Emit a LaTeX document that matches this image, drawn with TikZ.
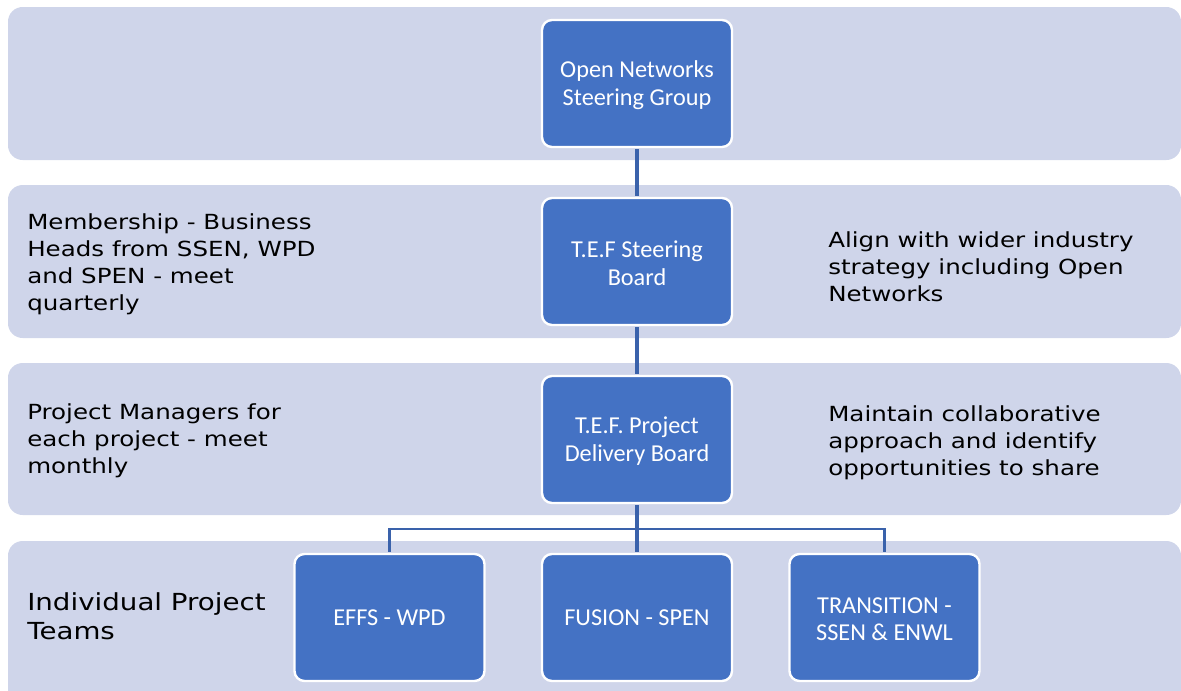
\documentclass[tikz,border=0pt]{standalone}
\usepackage{fontspec}
\setmainfont{DejaVu Sans}
\newfontfamily\sidefont[FakeStretch=1.18]{DejaVu Sans}
\newfontfamily\boxfont{Carlito}
\definecolor{band}{HTML}{CFD5EA}
\definecolor{boxblue}{HTML}{4472C4}
\definecolor{linkblue}{HTML}{3A62AB}
\begin{document}
\begin{tikzpicture}[x=0.75pt,y=-0.75pt,
  bandrect/.style={fill=band,draw=none,rounded corners=11pt},
  unit/.style={draw=white,line width=1.8pt,fill=boxblue,rounded corners=7.5pt,
    minimum width=190*0.75pt,minimum height=127*0.75pt,inner sep=0pt,
    text=white,align=center,font=\boxfont\fontsize{18.2}{20.5}\selectfont},
  unitlabel/.style={inner sep=0pt,text=white,align=center,font=\boxfont\fontsize{18.2}{20.5}\selectfont},
  side/.style={anchor=west,align=left,inner sep=0pt,text=black,
    font=\sidefont\fontsize{15.6}{20.3}\selectfont},
  thick link/.style={draw=linkblue,line width=3pt},
  thin link/.style={draw=linkblue,line width=1.6pt}]
\useasboundingbox (0,0) rectangle (1181,690);
% bands
\fill[bandrect] (8,7) rectangle (1181,160);
\fill[bandrect] (8,185) rectangle (1181,338);
\fill[bandrect] (8,363) rectangle (1181,515);
\fill[bandrect] (8,541) rectangle (1181,705);
% boxes
\node[unit] (osg) at (637,83.5) {};
\node[unit] (tsb) at (637,261.5) {};
\node[unit] (pdb) at (637,439.5) {};
\node[unit] (effs) at (389.5,617.5) {};
\node[unit] (fus) at (637,617.5) {};
\node[unit] (tra) at (884.5,617.5) {};
\node[unitlabel] (osgt) at ([yshift=-1.2pt]osg.center) {Open Networks\\Steering Group};
\node[unitlabel] (tsbt) at ([yshift=-1.2pt]tsb.center) {T.E.F Steering\\Board};
\node[unitlabel] (pdbt) at ([yshift=-1.2pt]pdb.center) {T.E.F. Project\\Delivery Board};
\node[unitlabel] (effst) at ([yshift=-0.5pt]effs.center) {EFFS - WPD};
\node[unitlabel] (fust) at ([yshift=-0.5pt]fus.center) {FUSION - SPEN};
\node[unitlabel] (trat) at ([yshift=-1.2pt]tra.center) {TRANSITION -\\SSEN \& ENWL};
\coordinate (hy) at (637,529);
% connectors
\draw[thick link] ([yshift=-0.9pt]osg.south) -- ([yshift=0.9pt]tsb.north);
\draw[thick link] ([yshift=-0.9pt]tsb.south) -- ([yshift=0.9pt]pdb.north);
\draw[thick link] ([yshift=-0.9pt]pdb.south) -- ([yshift=0.9pt]fus.north);
\draw[thin link] ([yshift=0.9pt]effs.north) |- (hy) -| ([yshift=0.9pt]tra.north);
% side texts
\node[side] (memb) at (27,264) {Membership - Business\\Heads from SSEN, WPD\\and SPEN - meet\\quarterly};
\node[side] (align) at (828,266.5) {Align with wider industry\\strategy including Open\\Networks};
\node[side] (pm) at (27,441) {Project Managers for\\each project - meet\\monthly};
\node[side] (maint) at (828,443) {Maintain collaborative\\approach and identify\\opportunities to share};
\node[side,font=\sidefont\fontsize{17.6}{21.8}\selectfont] (ind) at (27,616.5) {Individual Project\\Teams};
\end{tikzpicture}
\end{document}
